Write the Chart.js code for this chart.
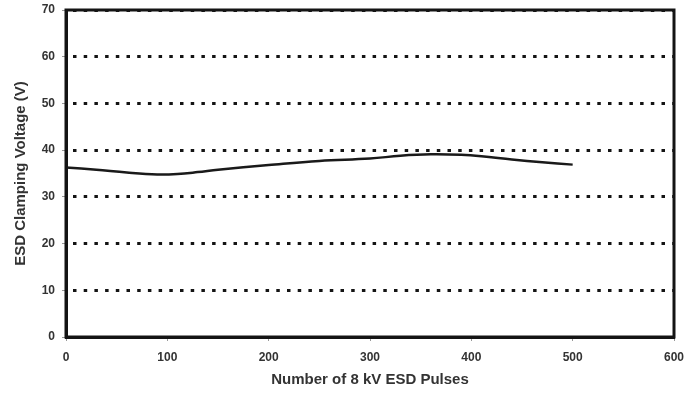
<!DOCTYPE html>
<html>
<head>
<meta charset="utf-8">
<script src="https://cdn.jsdelivr.net/npm/chart.js@4/dist/chart.umd.min.js"></script>
<style>
  html, body { margin: 0; padding: 0; background: #fff; }
  #wrap { width: 691px; height: 393px; }
</style>
</head>
<body>
<div id="wrap"><canvas id="c" width="691" height="393"></canvas></div>
<script>
// Données
const pulses  = [0, 30, 60, 90, 110, 130, 150, 200, 250, 300, 330, 360, 390, 410, 440, 470, 500];
const voltage = [36.3, 35.8, 35.2, 34.8, 34.9, 35.3, 35.8, 36.8, 37.7, 38.2, 38.8, 39.1, 39.0, 38.7, 38.0, 37.4, 36.9];
const xTicks  = [0, 100, 200, 300, 400, 500, 600];
const yTicks  = [0, 10, 20, 30, 40, 50, 60, 70];

const FONT = 'Liberation Sans, Arial, sans-serif';

// Cadre noir épais autour de la zone de tracé
const frame = {
  id: 'frame',
  afterDraw(chart) {
    const { ctx, chartArea: a } = chart;
    ctx.save();
    ctx.strokeStyle = '#141414';
    ctx.lineWidth = 3;
    ctx.strokeRect(a.left, a.top, a.right - a.left, a.bottom - a.top);
    ctx.restore();
  },
};

new Chart(document.getElementById('c'), {
  type: 'line',
  data: {
    datasets: [{
      data: pulses.map((p, i) => ({ x: p, y: voltage[i] })),
      borderColor: '#1a1a1a',
      borderWidth: 2.5,
      pointRadius: 0,
      tension: 0.4,
      fill: false,
    }],
  },
  options: {
    responsive: false,
    animation: false,
    layout: { padding: { top: 10, right: 17, left: 0, bottom: 0 } },
    plugins: { legend: { display: false }, tooltip: { enabled: false } },
    scales: {
      x: {
        type: 'linear',
        min: 0, max: 600,
        afterBuildTicks: s => { s.ticks = xTicks.map(v => ({ value: v })); },
        afterFit: s => { s.height = 56; s.paddingLeft = 0; s.paddingRight = 0; },
        ticks: { color: '#333', font: { family: FONT, size: 12, weight: 'bold' }, padding: 9, maxRotation: 0 },
        grid: { drawOnChartArea: false, drawTicks: true, tickLength: 4, tickColor: '#999', tickWidth: 1 },
        border: { display: true, color: '#141414', width: 3 },
        title: {
          display: true,
          text: 'Number of 8 kV ESD Pulses',
          color: '#333',
          font: { family: FONT, size: 15, weight: 'bold' },
          padding: { top: 0, bottom: 4 },
        },
      },
      y: {
        min: 0, max: 70,
        afterBuildTicks: s => { s.ticks = yTicks.map(v => ({ value: v })); },
        afterFit: s => { s.width = 66; s.paddingTop = 0; s.paddingBottom = 0; },
        ticks: { color: '#333', font: { family: FONT, size: 12, weight: 'bold' }, padding: 7 },
        grid: {
          color: '#141414',
          lineWidth: 3,
          drawTicks: true,
          tickLength: 4,
          tickColor: '#999',
          tickWidth: 1,
        },
        border: { display: true, color: '#141414', width: 3, dash: [3.5, 7.2], dashOffset: -5 },
        title: {
          display: true,
          text: 'ESD Clamping Voltage (V)',
          color: '#333',
          font: { family: FONT, size: 15, weight: 'bold' },
          padding: { top: 12, bottom: 0 },
        },
      },
    },
  },
  plugins: [frame],
});
</script>
</body>
</html>
